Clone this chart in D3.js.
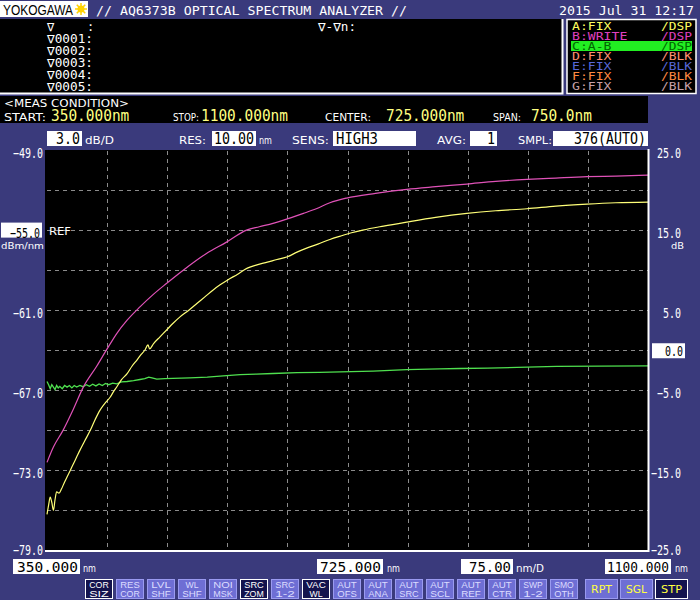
<!DOCTYPE html>
<html>
<head>
<meta charset="utf-8">
<script src="https://cdn.jsdelivr.net/npm/d3@7"></script>
<style>
  body { margin: 0; background: #3a3a7c; }
  svg { display: block; }
</style>
</head>
<body>
<div id="osa"></div>
<script>
// traces: [wavelength nm, level]
// A (yellow) and B (magenta) in dBm/nm on the left scale, C = A-B in dB on the right scale
const traceA = [[350,-76.3],[352,-75.6],[354,-75.0],[356,-75.4],[358,-76.0],[360,-75.2],[362,-74.6],[365,-74.7],
  [368,-74.4],[371,-74.0],[375,-73.5],[379,-73.0],[383,-72.5],[387,-72.0],[391,-71.5],[397,-70.8],[404,-70.0],
  [410,-69.2],[416,-68.5],[422,-68.0],[429,-67.5],[433,-67.1],[437,-66.75],[443,-66.2],[450,-65.75],[456,-65.2],
  [462,-64.75],[467,-64.35],[472,-64.0],[476,-63.6],[478,-63.9],[483,-63.5],[491,-63.0],[499,-62.5],[507,-62.0],
  [516,-61.5],[527,-61.0],[537,-60.5],[547,-60.0],[557,-59.5],[566,-59.1],[575,-58.75],[588,-58.3],[600,-57.85],
  [612,-57.6],[625,-57.4],[637,-57.2],[650,-57.0],[662,-56.65],[674,-56.35],[688,-56.05],[703,-55.7],[716,-55.45],
  [730,-55.2],[744,-55.0],[770,-54.7],[799,-54.4],[835,-54.05],[874,-53.75],[910,-53.55],[949,-53.4],[985,-53.2],
  [1024,-53.05],[1060,-52.95],[1100,-52.9]];
const traceB = [[350,-72.4],[358,-71.25],[370,-70.0],[383,-68.4],[395,-66.8],[412,-65.2],[425,-63.9],[437,-62.75],
  [450,-61.75],[466,-60.75],[482,-59.85],[499,-59.0],[520,-58.0],[549,-56.75],[574,-55.9],[599,-55.0],[615,-54.75],
  [632,-54.5],[653,-54.1],[670,-53.75],[686,-53.4],[703,-52.95],[724,-52.6],[760,-52.25],[799,-51.95],[835,-51.75],
  [874,-51.55],[910,-51.35],[949,-51.2],[985,-51.1],[1024,-51.0],[1060,-50.95],[1100,-50.88]];
const traceC = [[350,-3.9],[352,-4.3],[354,-4.8],[356,-4.3],[358,-4.6],[360,-4.9],[362,-4.4],[364,-4.7],[366,-4.5],
  [369,-4.8],[372,-4.4],[375,-4.6],[378,-4.4],[381,-4.7],[384,-4.4],[387,-4.6],[391,-4.4],[395,-4.55],[399,-4.3],
  [403,-4.5],[407,-4.25],[411,-4.45],[415,-4.2],[419,-4.4],[423,-4.15],[427,-4.3],[432,-4.1],[437,-4.2],[443,-3.95],
  [450,-3.9],[458,-3.8],[466,-3.65],[472,-3.55],[477,-3.35],[481,-3.45],[487,-3.6],[497,-3.55],[507,-3.5],
  [528,-3.45],[550,-3.35],[570,-3.2],[591,-3.05],[611,-2.97],[632,-2.9],[662,-2.8],[690,-2.75],[716,-2.7],
  [757,-2.6],[799,-2.42],[840,-2.32],[865,-2.28],[900,-2.22],[937,-2.15],[986,-2.02],[1040,-1.98],[1100,-1.95]];

const levelTicks = [-49, -55, -61, -67, -73, -79];
const dbTicks = [25, 15, 5, -5, -15, -25];
const refLevel = -55;
const refDb = 0;

const traceNames = ["A:FIX", "B:WRITE", "C:A-B", "D:FIX", "E:FIX", "F:FIX", "G:FIX"];
const traceModes = ["/DSP", "/DSP", "/DSP", "/BLK", "/BLK", "/BLK", "/BLK"];
const markerRows = ["\u22070001:", "\u22070002:", "\u22070003:", "\u22070004:", "\u22070005:"];
const measLabels = ["START:", "STOP:", "CENTER:", "SPAN:"];
const measValues = ["350.000nm", "1100.000nm", "725.000nm", "750.0nm"];
const softKeys = [["COR","SIZ"],["RES","COR"],["LVL","SHF"],["WL","SHF"],["NOI","MSK"],["SRC","ZOM"],["SRC","1-2"],
  ["VAC","WL"],["AUT","OFS"],["AUT","ANA"],["AUT","SRC"],["AUT","SCL"],["AUT","REF"],["AUT","CTR"],["SWP","1-2"],["SMO","OTH"]];
const activeKeys = ["COR SIZ", "SRC ZOM", "VAC WL"];
const runKeys = ["RPT", "SGL", "STP"];

const W = 700, H = 600;
const mono = "'DejaVu Sans Mono', monospace";
const sans = "'DejaVu Sans', sans-serif";
const lib = "'Liberation Sans', sans-serif";
const navy = "#3a3a7c";
const colA = "#ffff78", colB = "#e052b8", colC = "#4fe04f";
const legendCols = ["#ffff60", "#e040c0", "#006400", "#ff9070", "#5868d8", "#ff8a40", "#c8a0a8"];

const svg = d3.select("#osa").append("svg").attr("width", W).attr("height", H);
svg.append("rect").attr("width", W).attr("height", H).attr("fill", navy);

function text(g, x, y, s, o = {}) {
  const t = g.append("text")
    .attr("x", x).attr("y", y)
    .attr("font-family", o.family || mono)
    .attr("font-size", o.size || 13)
    .attr("fill", o.fill || "#fff")
    .attr("text-anchor", o.anchor || "start")
    .text(s);
  if (o.len) t.attr("textLength", o.len).attr("lengthAdjust", "spacingAndGlyphs");
  if (o.weight) t.attr("font-weight", o.weight);
  return t;
}

function valueBox(x0, x1, y0, s, o = {}) {
  svg.append("rect").attr("x", x0).attr("y", y0).attr("width", x1 - x0).attr("height", 15).attr("fill", "#fff");
  const anchor = o.anchor || "end";
  text(svg, anchor === "end" ? x1 - 2 : x0 + 3, y0 + 13, s,
    { fill: "#000", size: o.size || 15, anchor, len: o.len });
}

// ---- header bar
svg.append("rect").attr("x", 0).attr("y", 1).attr("width", 88).attr("height", 16).attr("fill", "#fff");
text(svg, 3, 15, "YOKOGAWA", { fill: "#000", family: lib, size: 15, len: 70 });
const sun = svg.append("g").attr("transform", "translate(81,9)");
sun.append("circle").attr("r", 3.5).attr("fill", "#ffd200");
d3.range(8).forEach(i => {
  const a = i * Math.PI / 4;
  sun.append("line").attr("x1", 3 * Math.cos(a)).attr("y1", 3 * Math.sin(a))
    .attr("x2", 6 * Math.cos(a)).attr("y2", 6 * Math.sin(a))
    .attr("stroke", "#ffd200").attr("stroke-width", 1.5);
});
text(svg, 96, 15, "// AQ6373B OPTICAL SPECTRUM ANALYZER //", { len: 311 });
text(svg, 694, 15, "2015 Jul 31 12:17", { anchor: "end", len: 135 });

// ---- marker panel
svg.append("rect").attr("x", 0).attr("y", 19).attr("width", 562).attr("height", 74).attr("fill", "#000");
svg.append("path").attr("d", "M0,93.5H562.5V19").attr("fill", "none").attr("stroke", "#fff").attr("stroke-width", 2);
text(svg, 47, 31, "\u2207", { size: 12 });
text(svg, 87, 31, ":", { size: 12 });
markerRows.forEach((s, i) => text(svg, 47, 43 + i * 12, s, { size: 12, len: 46 }));
text(svg, 318, 31, "\u2207-\u2207n:", { size: 12, len: 38 });

// ---- trace legend
svg.append("rect").attr("x", 567).attr("y", 19.5).attr("width", 129).attr("height", 74)
  .attr("fill", "#000").attr("stroke", "#fff").attr("stroke-width", 1.5);
svg.append("rect").attr("x", 571).attr("y", 41).attr("width", 121).attr("height", 10).attr("fill", "#22ee22");
traceNames.forEach((s, i) => {
  const y = 30 + i * 10;
  text(svg, 572, y, s, { size: 10.5, fill: legendCols[i], len: s.length * 7.9 });
  text(svg, 692, y, traceModes[i], { size: 10.5, fill: legendCols[i], anchor: "end", len: 31 });
});

// ---- measurement conditions
svg.append("rect").attr("x", 0).attr("y", 96).attr("width", 648).attr("height", 27).attr("fill", "#000");
text(svg, 4, 107, "<MEAS CONDITION>", { family: sans, size: 10, len: 125 });
const measX = [4, 173, 325, 493], valX = [51, 201, 386, 531], measLen = [42, 26, 46, 28];
measLabels.forEach((s, i) => {
  text(svg, measX[i], 121, s, { family: sans, size: 10, len: measLen[i] });
  text(svg, valX[i], 121, measValues[i], { size: 15, fill: "#ffff80", len: measValues[i].length * 8.7 });
});

// ---- settings row
valueBox(47, 82, 131, "3.0", { len: 24 });
text(svg, 85, 144, "dB/D", { family: sans, size: 10, len: 29 });
text(svg, 179, 144, "RES:", { family: sans, size: 10, len: 27 });
valueBox(212, 256, 131, "10.00", { len: 40 });
text(svg, 259, 144, "nm", { family: sans, size: 10, len: 13 });
text(svg, 292, 144, "SENS:", { family: sans, size: 10, len: 37 });
valueBox(333, 416, 131, "HIGH3", { anchor: "start", len: 42 });
text(svg, 437, 144, "AVG:", { family: sans, size: 10, len: 29 });
valueBox(470, 497, 131, "1", { len: 8 });
text(svg, 518, 144, "SMPL:", { family: sans, size: 10, len: 34 });
valueBox(553, 648, 131, "376(AUTO)", { len: 72 });

// ---- plot
const x = d3.scaleLinear().domain([350, 1100]).range([47, 648]);
const yL = d3.scaleLinear().domain([-79, -49]).range([550.5, 150]);
const yR = d3.scaleLinear().domain([-25, 25]).range([550.5, 150]);

svg.append("rect").attr("x", 45).attr("y", 150).attr("width", 604).attr("height", 401).attr("fill", "#000");

const grid = svg.append("g").attr("stroke", "#8c8c8c").attr("stroke-width", 1).attr("stroke-dasharray", "4,4");
d3.range(-76, -49, 3).forEach(v => {
  grid.append("line").attr("x1", 47).attr("x2", 648).attr("y1", Math.round(yL(v)) + 0.5).attr("y2", Math.round(yL(v)) + 0.5);
});
d3.range(425, 1100, 75).forEach(v => {
  grid.append("line").attr("y1", 151).attr("y2", 550).attr("x1", Math.round(x(v)) + 0.5).attr("x2", Math.round(x(v)) + 0.5);
});

svg.append("clipPath").attr("id", "clip").append("rect").attr("x", 45).attr("y", 150).attr("width", 603).attr("height", 401);
const plot = svg.append("g").attr("clip-path", "url(#clip)");
const lineL = d3.line().x(d => x(d[0])).y(d => yL(d[1])).curve(d3.curveMonotoneX);
const lineR = d3.line().x(d => x(d[0])).y(d => yR(d[1]));
plot.append("path").attr("d", lineR(traceC)).attr("fill", "none").attr("stroke", colC).attr("stroke-width", 1.3);
plot.append("path").attr("d", lineL(traceB)).attr("fill", "none").attr("stroke", colB).attr("stroke-width", 1.2);
plot.append("path").attr("d", lineL(traceA)).attr("fill", "none").attr("stroke", colA).attr("stroke-width", 1.2);

// frame: bottom and right white lines
svg.append("path").attr("d", "M45,551H648.5V149").attr("fill", "none").attr("stroke", "#fff").attr("stroke-width", 2);

// left level axis
const axL = svg.append("g").attr("transform", "translate(43,0)")
  .call(d3.axisLeft(yL).tickValues(levelTicks).tickSize(0).tickPadding(0).tickFormat(d3.format(".1f")));
axL.select(".domain").remove();
axL.selectAll("text")
  .attr("font-family", mono).attr("font-size", 14).attr("fill", "#fff").attr("dy", d => d === -79 ? "0.3em" : "0.5em")
  .attr("textLength", 30).attr("lengthAdjust", "spacingAndGlyphs");
axL.selectAll(".tick").filter(d => d === refLevel).each(function () {
  const t = d3.select(this);
  t.insert("rect", "text").attr("x", -42).attr("y", -8).attr("width", 41).attr("height", 15).attr("fill", "#fff");
  t.select("text").attr("fill", "#000").attr("x", -3);
});
text(svg, 49, yL(refLevel) + 5, "REF", { family: sans, size: 10, len: 22 });
text(svg, 1, yL(refLevel) + 19, "dBm/nm", { family: sans, size: 9, len: 43 });

// right dB axis
const axR = svg.append("g").attr("transform", "translate(681,0)")
  .call(d3.axisLeft(yR).tickValues(dbTicks).tickSize(0).tickPadding(0).tickFormat(d3.format(".1f")));
axR.select(".domain").remove();
axR.selectAll("text")
  .attr("font-family", mono).attr("font-size", 14).attr("fill", "#fff").attr("dy", d => d === -25 ? "0.3em" : "0.5em")
  .each(function (d) {
    const n = d3.format(".1f")(d).length;
    d3.select(this).attr("textLength", n * 6).attr("lengthAdjust", "spacingAndGlyphs");
  });
text(svg, 684, yR(15) + 19, "dB", { family: sans, size: 9, anchor: "end", len: 13 });
svg.append("rect").attr("x", 652).attr("y", yR(refDb) - 7).attr("width", 33).attr("height", 15).attr("fill", "#fff");
text(svg, 683, yR(refDb) + 6, d3.format(".1f")(refDb), { fill: "#000", size: 14, anchor: "end", len: 18 });

// wavelength boxes
const xBoxY = 559;
valueBox(13, 80, xBoxY, "350.000", { len: 61, size: 14 });
text(svg, 83, xBoxY + 13, "nm", { family: sans, size: 10, len: 13 });
valueBox(317, 383, xBoxY, "725.000", { len: 61, size: 14 });
text(svg, 387, xBoxY + 13, "nm", { family: sans, size: 10, len: 13 });
valueBox(461, 513, xBoxY, "75.00", { len: 42, size: 14 });
text(svg, 516, xBoxY + 13, "nm/D", { family: sans, size: 10, len: 28 });
valueBox(605, 671, xBoxY, "1100.000", { len: 62, size: 14 });
text(svg, 675, xBoxY + 13, "nm", { family: sans, size: 10, len: 13 });

// ---- soft keys
softKeys.forEach((k, i) => {
  const x0 = 85 + i * 31;
  const on = activeKeys.includes(k.join(" "));
  svg.append("rect").attr("x", x0 + 0.5).attr("y", 579.5).attr("width", 27).attr("height", 19)
    .attr("fill", on ? "#14144e" : "#6e6ed4").attr("stroke", on ? "#fff" : "#9a9af0");
  k.forEach((s, j) => text(svg, x0 + 14, 587.5 + j * 9.5, s,
    { family: lib, size: 8.4, anchor: "middle", fill: on ? "#fff" : "#dcdcff", len: s.length * 6.5 }));
});
runKeys.forEach((s, i) => {
  const x0 = 585 + i * 35;
  const on = s === "STP";
  svg.append("rect").attr("x", x0 + 0.5).attr("y", 579.5).attr("width", 32).attr("height", 19)
    .attr("fill", on ? "#14144e" : "#6e6ed4").attr("stroke", on ? "#fff" : "#9a9af0");
  text(svg, x0 + 16.5, 593, s, { family: sans, size: 10, anchor: "middle", fill: "#ffff40", len: 21 });
});
</script>
</body>
</html>
